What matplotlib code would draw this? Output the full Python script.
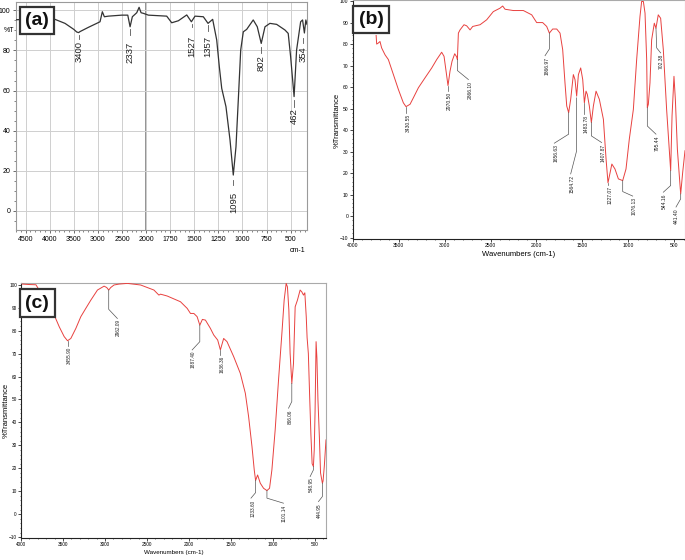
import numpy as np
import matplotlib
matplotlib.use("Agg")
import matplotlib.pyplot as plt
from matplotlib.ticker import MultipleLocator

plt.rcParams['font.family'] = ['Liberation Sans', 'DejaVu Sans']

# ---------------- data: panel (a) ----------------
wn_a = [4700, 4500, 4200, 3891, 3683, 3500, 3440, 3400, 3371, 3199, 3025, 2956, 2908,
        2866, 2783, 2505, 2380, 2332, 2285, 2194, 2145, 2104, 2056, 1976, 1900, 1786,
        1734, 1665, 1578, 1530, 1492, 1406, 1357, 1309, 1267, 1240, 1215, 1171, 1129,
        1095, 1067, 1043, 1018, 991, 956, 888, 846, 805, 766, 715, 645, 559, 525, 500,
        464, 438, 396, 376, 357, 342, 330]
T_a = [95.3, 95.5, 95.5, 95.5, 93.5, 90.5, 89.2, 88.9, 89.4, 91.5, 93.5, 94.3, 99.3,
       96.8, 97.1, 97.6, 97.6, 91.8, 96.8, 98.8, 101.5, 98.8, 98.5, 97.6, 97.4, 97.1,
       93.8, 94.8, 97.7, 94.3, 97.1, 96.8, 93.5, 95.5, 85.2, 71.9, 61.1, 52.0, 35.4,
       17.9, 32.0, 55.3, 80.2, 89.3, 90.5, 95.2, 91.8, 83.5, 91.8, 93.5, 93.0, 90.2, 88.5, 76.9,
       57.0, 80.2, 94.3, 95.2, 88.7, 95.2, 93.0]
peaks_a = ["3400", "2337", "1527", "1357", "1095", "802", "462", "354"]

# ---------------- data: panel (b) ----------------
wn_b = [3745, 3739, 3721, 3703, 3685, 3648, 3612, 3557, 3503, 3449, 3420, 3376, 3340, 3285,
        3213, 3140, 3086, 3032, 3006, 2984, 2963, 2941, 2919, 2890, 2868, 2861, 2850,
        2832, 2789, 2760, 2723, 2694, 2614, 2542, 2470, 2397, 2368, 2342, 2252, 2143,
        2052, 1998, 1933, 1889, 1860, 1824, 1780, 1744, 1715, 1690, 1671, 1650, 1628,
        1599, 1581, 1563, 1544, 1519, 1497, 1479, 1461, 1447, 1425, 1403, 1381, 1352,
        1316, 1272, 1243, 1222, 1200, 1180, 1146, 1109, 1062, 1026, 990, 946, 910, 874,
        856, 837, 819, 801, 794, 783, 765, 747, 718, 700, 675, 649, 620, 584, 540, 525,
        504, 489, 467, 438, 431, 409, 384]
T_b = [84.0, 80.0, 80.5, 81.2, 78.2, 75.0, 72.8, 65.8, 58.9, 52.7, 50.9, 52.0, 55.0, 59.7,
       64.3, 68.9, 72.8, 76.2, 74.3, 67.4, 60.7, 67.4, 72.0, 75.5, 74.0, 72.8, 85.1,
       86.6, 89.0, 88.5, 86.6, 88.2, 89.0, 91.3, 95.1, 96.7, 97.7, 96.2, 95.6, 95.6,
       93.6, 90.0, 90.0, 88.2, 85.1, 87.0, 87.0, 85.1, 77.4, 62.0, 51.2, 48.1, 54.3,
       65.8, 63.5, 55.8, 65.8, 68.9, 63.5, 52.7, 58.1, 56.6, 51.2, 43.5, 51.2, 58.1,
       54.3, 45.0, 26.5, 15.5, 20.0, 24.2, 21.9, 17.3, 16.5, 21.9, 35.8, 49.6, 72.8, 92.8,
       99.8, 99.8, 94.4, 72.8, 50.4, 52.0, 62.0, 82.0, 89.7, 87.4, 93.6, 92.0, 77.4, 49.6, 21.1, 46.6,
       65.0, 54.3, 31.1, 14.2, 10.3, 20.4, 30.4]
peaks_b = ["3430.55", "2970.50", "2866.10", "1866.97", "1656.63", "1564.72", "1483.78",
           "1407.87", "1227.07", "1076.13", "795.44", "702.38", "544.16", "441.40"]

# ---------------- data: panel (c) ----------------
wn_c = [3985, 3900, 3822, 3740, 3650, 3605, 3545, 3486, 3446, 3407, 3347, 3288, 3229,
        3169, 3090, 3011, 2980, 2956, 2932, 2893, 2833, 2734, 2576, 2418, 2359, 2339,
        2260, 2102, 2022, 1983, 1943, 1904, 1872, 1841, 1805, 1746, 1706, 1659, 1627,
        1588, 1548, 1469, 1390, 1330, 1291, 1251, 1224, 1208, 1184, 1152, 1113, 1073,
        1042, 1014, 975, 935, 895, 868, 844, 829, 812, 797, 777, 757, 737, 710, 678,
        658, 638, 622, 605, 595, 580, 565, 550, 535, 520, 510, 500, 488, 478, 466, 449,
        435, 413, 405, 390, 370]
T_c = [100.3, 100.1, 100.0, 95.0, 89.5, 86.8, 81.7, 77.4, 75.6, 76.6, 81.0, 86.1, 89.7,
       93.3, 97.7, 99.4, 98.8, 97.7, 98.8, 99.9, 100.3, 100.6, 99.9, 97.7, 95.5, 95.9,
       95.1, 92.6, 89.7, 87.5, 87.5, 86.1, 82.4, 84.9, 84.6, 81.0, 78.1, 75.9, 71.6,
       76.6, 75.2, 68.7, 61.4, 52.7, 42.5, 29.5, 19.3, 14.7, 17.1, 13.5, 11.3, 10.3,
       11.3, 19.3, 36.7, 58.5, 78.8, 93.3, 100.6, 99.1, 89.0, 70.1, 57.0, 65.7, 90.4, 93.3, 97.7,
       96.9, 95.5, 96.5, 86.0, 77.0, 70.0, 52.0, 35.0, 22.0, 20.8, 28.0, 45.0, 75.2, 68.0, 50.0, 33.8,
       18.0, 13.5, 14.5, 21.0, 32.4]
peaks_c = ["3455.90", "2962.09", "1887.40", "1636.36", "806.06", "1233.60", "1101.14",
           "548.95", "444.95"]

# ---------------- label layout (positions only) ----------------
# panel a: (x, line_top, line_bottom, text_top)
lay_a = [(3400, 87.5, 85.5, 84.5), (2335, 90.5, 87.5, 84.3), (1527, 93.3, 91.5, 87.5),
         (1357, 92.5, 89.5, 87.5), (1095, 15.4, 13.0, 9.6), (805, 81.9, 78.6, 77.7),
         (464, 55.3, 52.0, 51.3), (368, 86.2, 83.7, 81.9)]
# panel b: leader polyline, text (x, top)
lay_b = [([(3420, 50.9), (3420, 48.1)], (3400, 47.6)),
         ([(2963, 60.7), (2963, 58.1)], (2945, 57.6)),
         ([(2861, 72.8), (2861, 67.7), (2741, 63.5)], (2723, 63.0)),
         ([(1860, 85.1), (1860, 77.7), (1907, 74.6)], (1889, 74.0)),
         ([(1650, 48.1), (1650, 38.1), (1806, 33.9)], (1788, 33.4)),
         ([(1563, 55.0), (1563, 30.4), (1628, 19.6)], (1610, 19.0)),
         ([(1479, 52.7), (1479, 47.5)], (1462, 47.0)),
         ([(1403, 43.5), (1403, 37.3), (1291, 34.2)], (1275, 33.8)),
         ([(1222, 15.5), (1222, 14.5)], (1200, 14.0)),
         ([(1062, 16.5), (1062, 11.4), (953, 9.3)], (939, 8.8)),
         ([(794, 50.4), (794, 41.9), (700, 38.1)], (685, 37.6)),
         ([(700, 87.4), (692, 78.2), (649, 75.9)], (638, 75.3)),
         ([(540, 21.1), (540, 14.2), (620, 11.1)], (612, 10.6)),
         ([(431, 10.3), (431, 8.0), (482, 4.2)], (475, 3.7))]
lay_c = [([(3446, 75.6), (3446, 73.3)], (3427, 73.0)),
         ([(2956, 97.7), (2956, 89.3), (2853, 85.3)], (2845, 84.9)),
         ([(1872, 82.4), (1872, 75.2), (1963, 71.6)], (1951, 71.3)),
         ([(1627, 71.6), (1627, 69.4)], (1607, 68.9)),
         ([(777, 57.0), (777, 49.1), (816, 46.2)], (797, 45.4)),
         ([(1208, 14.7), (1208, 9.4), (1263, 7.0)], (1243, 6.2)),
         ([(1073, 10.3), (1073, 7.0), (876, 4.8)], (868, 4.1)),
         ([(520, 20.8), (520, 19.3), (559, 16.4)], (551, 16.1)),
         ([(413, 13.5), (413, 7.7), (460, 5.5)], (449, 4.8))]

fig = plt.figure(figsize=(6.85, 5.6), dpi=100)
W, H = 685.0, 560.0

def rect(l, t, r, b):
    return [l / W, 1 - b / H, (r - l) / W, (b - t) / H]

# ---------------- panel (a) ----------------
def fwd(x):
    x = np.asarray(x, float)
    return np.where(x > 2000, 2000 + (x - 2000) / 2.0, x)

def inv(y):
    y = np.asarray(y, float)
    return np.where(y > 2000, 2000 + (y - 2000) * 2.0, y)

axa = fig.add_axes(rect(16, 1.7, 307, 230))
axa.set_xscale('function', functions=(fwd, inv))
axa.set_xlim(4700, 330)
axa.set_ylim(-9.5, 104.3)
maj_a = [4500, 4000, 3500, 3000, 2500, 2000, 1750, 1500, 1250, 1000, 750, 500]
axa.set_xticks(maj_a)
axa.set_xticklabels([str(v) for v in maj_a])
axa.set_xticks(list(range(4700, 2000, -100)) + list(range(1950, 330, -50)), minor=True)
axa.set_yticks([0, 20, 40, 60, 80, 100])
axa.yaxis.set_minor_locator(MultipleLocator(5))
axa.grid(which='major', color='#cfcfcf', lw=0.7)
axa.axvline(2000, color='#8a8a8a', lw=1.3, zorder=1)
axa.plot(wn_a, T_a, color='#333333', lw=0.9, zorder=3)
for s in axa.spines.values():
    s.set_color('#9a9a9a')
    s.set_linewidth(0.8)
axa.tick_params(axis='both', which='major', labelsize=5, length=2.5, width=0.6,
                color='#555555', pad=1.5)
axa.tick_params(axis='both', which='minor', length=1.5, width=0.5, color='#555555')
axa.text(-0.005, (90 + 9.5) / (104.3 + 9.5), '%T', transform=axa.transAxes,
         ha='right', va='center', fontsize=5)
axa.text(0.995, -0.075, 'cm-1', transform=axa.transAxes, ha='right', va='top', fontsize=5)
for lab, (x, l1, l2, tt) in zip(peaks_a, lay_a):
    axa.plot([x, x], [l1, l2], color='#555555', lw=0.6, zorder=4)
    axa.text(x, tt, lab, rotation=90, ha='center', va='top', fontsize=6.8,
             color='#222222', zorder=5)

# ---------------- helper for (b) and (c) ----------------
red = '#e8413f'

def setup(ax, xl, yl, labsize):
    ax.set_xlim(*xl)
    ax.set_ylim(*yl)
    ax.set_xticks([4000, 3500, 3000, 2500, 2000, 1500, 1000, 500])
    ax.xaxis.set_minor_locator(MultipleLocator(100))
    ax.set_yticks(list(range(-10, 101, 10)))
    ax.yaxis.set_minor_locator(MultipleLocator(2))
    ax.tick_params(axis='both', which='major', labelsize=labsize, length=2, width=0.5, pad=1)
    ax.tick_params(axis='both', which='minor', length=1, width=0.4)
    for k in ['left', 'bottom']:
        ax.spines[k].set_color('#222222')
        ax.spines[k].set_linewidth(0.8)
    for k in ['top', 'right']:
        ax.spines[k].set_color('#aaaaaa')
        ax.spines[k].set_linewidth(0.8)

def annotate(ax, labels, lay, fs):
    for lab, (pts, (tx, tt)) in zip(labels, lay):
        xs = [p[0] for p in pts]
        ys = [p[1] for p in pts]
        ax.plot(xs, ys, color='#555555', lw=0.5, zorder=4)
        ax.text(tx, tt, lab, rotation=90, ha='center', va='top', fontsize=fs,
                color='#222222', zorder=5)

# ---------------- panel (b) ----------------
axb = fig.add_axes(rect(352.7, 0, 685, 239.3))
setup(axb, (4000, 384), (-10.8, 100.5), 3.6)
axb.plot(wn_b, T_b, color=red, lw=0.7, zorder=3)
annotate(axb, peaks_b, lay_b, 3.6)
axb.set_xlabel('Wavenumbers (cm-1)', fontsize=5.5, labelpad=2)
fig.text(337 / W, 1 - 120 / H, '%Transmittance', rotation=90, ha='center', va='center',
         fontsize=5.5)

# ---------------- panel (c) ----------------
axc = fig.add_axes(rect(21, 282.7, 326, 538.3))
setup(axc, (4000, 370), (-10.5, 100.9), 3.4)
axc.plot(wn_c, T_c, color=red, lw=0.7, zorder=3)
annotate(axc, peaks_c, lay_c, 3.4)
axc.set_xlabel('Wavenumbers (cm-1)', fontsize=4.5, labelpad=2)
fig.text(6 / W, 1 - 410 / H, '%Transmittance', rotation=90, ha='center', va='center',
         fontsize=5.5)

# ---------------- panel tags ----------------
for tag, cx, cy in [('(a)', 37, 20.5), ('(b)', 371, 19.5), ('(c)', 37.2, 303.3)]:
    fig.text(cx / W, 1 - cy / H, tag, ha='center', va='center', fontsize=14,
             fontweight='bold', color='#111111', zorder=10,
             bbox=dict(boxstyle='square,pad=0.28', fc='white', ec='#333333', lw=1.6))

fig.savefig('out.png', dpi=100)
